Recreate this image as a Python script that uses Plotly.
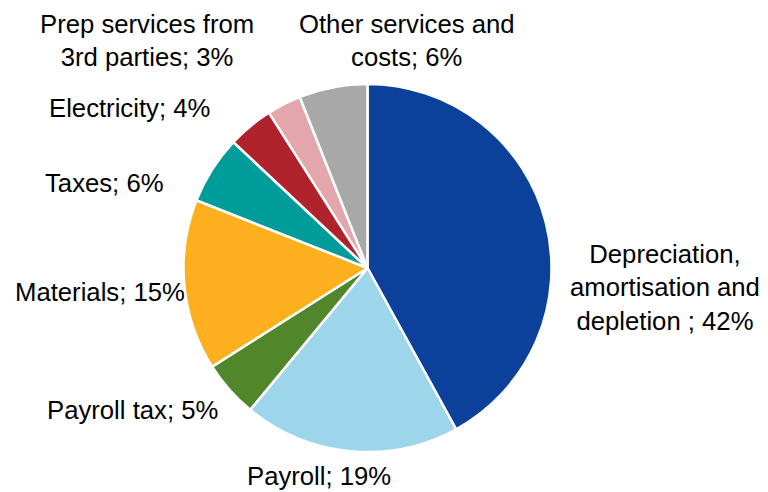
import plotly.graph_objects as go

# Cost breakdown (share of total, %)
categories = [
    "Depreciation,<br>amortisation and<br>depletion ",
    "Payroll",
    "Payroll tax",
    "Materials",
    "Taxes",
    "Electricity",
    "Prep services from<br>3rd parties",
    "Other services and<br>costs",
]
shares = [42, 19, 5, 15, 6, 4, 3, 6]
colors = ["#0B419B", "#9DD6EA", "#52862B", "#FDAF1D", "#009C9A",
          "#B0232D", "#E3A6AB", "#A8A8A8"]

W, H = 768, 492
FONT = dict(family="Liberation Sans, Arial, sans-serif", size=25.7, color="#000000")

# Label anchor points (pixel centres) for each slice's caption
label_px = [(665, 287), (319, 476), (132, 410), (100, 292),
            (104, 183), (129, 108), (147, 40), (407, 40)]

fig = go.Figure(go.Pie(
    labels=categories,
    values=shares,
    sort=False,
    direction="clockwise",
    rotation=0,
    marker=dict(colors=colors, line=dict(color="#FFFFFF", width=2.5)),
    textinfo="none",
    hoverinfo="label+percent",
    domain=dict(x=[183.5 / W, 551.5 / W], y=[40 / H, 408 / H]),
    showlegend=False,
))

total = sum(shares)
for name, val, (px, py) in zip(categories, shares, label_px):
    fig.add_annotation(
        x=px / W, y=1 - py / H, xref="paper", yref="paper",
        text=f"{name}; {round(100 * val / total)}%",
        showarrow=False, xanchor="center", yanchor="middle",
        align="center", font=FONT,
    )

fig.update_layout(
    width=W, height=H,
    margin=dict(l=0, r=0, t=0, b=0),
    paper_bgcolor="#FFFFFF",
    plot_bgcolor="#FFFFFF",
    font=FONT,
)

fig.write_html("out.html")
